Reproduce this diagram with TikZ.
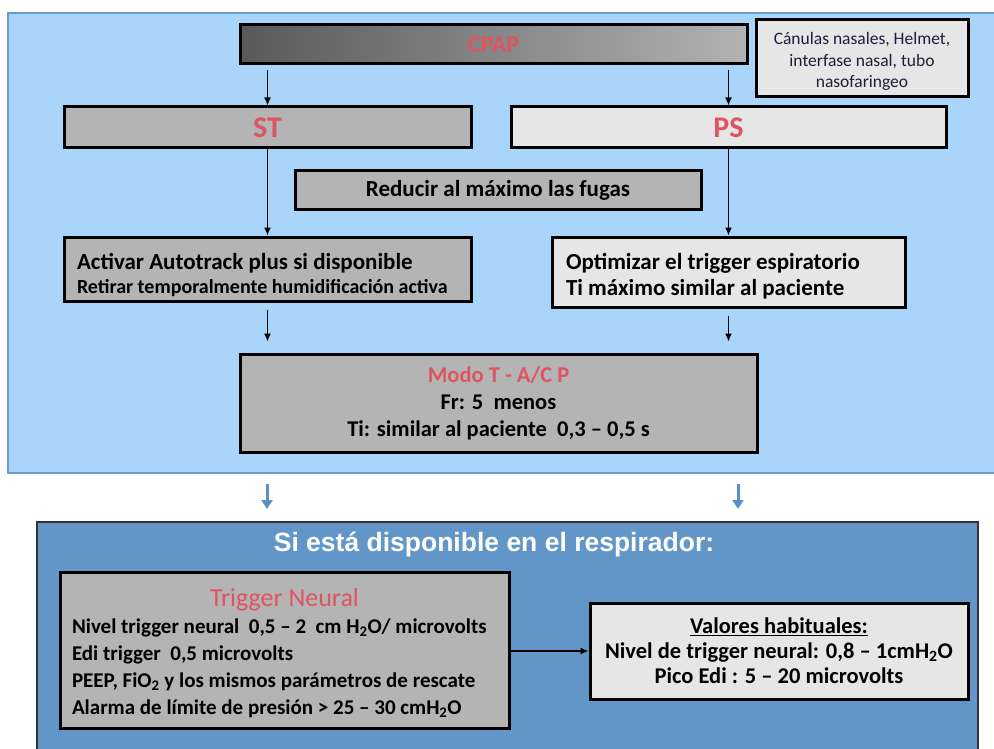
\documentclass[tikz,border=0pt]{standalone}
\usepackage{fontspec}
\setmainfont{Carlito}
\newfontfamily\titlefont{Liberation Sans}
\usetikzlibrary{arrows.meta}
\definecolor{panelblue}{RGB}{170,213,250}
\definecolor{paneledge}{RGB}{105,155,205}
\definecolor{deepblue}{RGB}{98,150,200}
\definecolor{boxgrey}{RGB}{180,180,180}
\definecolor{boxlight}{RGB}{230,230,230}
\definecolor{labelred}{RGB}{222,85,95}
\definecolor{arrowblue}{RGB}{90,143,200}
\definecolor{inknavy}{RGB}{30,30,60}
\tikzset{
  box/.style={draw=black, line width=3pt, inner sep=0pt, font=\bfseries\fontsize{23}{26}\selectfont},
  greybox/.style={box, fill=boxgrey},
  lightbox/.style={box, fill=boxlight},
  flow/.style={-{Latex[length=8pt,width=7pt]}, line width=1.5pt},
  bigflow/.style={-{Triangle[length=9pt,width=11pt]}, line width=3pt, draw=arrowblue, fill=arrowblue},
}
\begin{document}
\begin{tikzpicture}[x=1pt,y=-1pt]
\useasboundingbox (0,0) rectangle (994,749);
\clip (0,0) rectangle (994,749);
% panels
\draw[fill=panelblue, draw=paneledge, line width=2pt] (8,13) rectangle (1004,473);
\draw[fill=deepblue, draw=black!80, line width=2pt] (37,522) rectangle (978,770);
% upper part
\node[box, minimum width=507pt, minimum height=39pt, left color=black!65, right color=black!30, text=labelred, font=\bfseries\fontsize{24}{28}\selectfont] (cpap) at (493.5,44.5) {CPAP};
\node[lightbox, minimum width=212pt, minimum height=77pt, align=center, text=inknavy, font=\fontsize{17.5}{21.5}\selectfont] (interf) at (862,58.5) {\rule{0pt}{18.5pt}Cánulas nasales, Helmet,\\interfase nasal, tubo\\nasofaringeo};
\node[greybox, minimum width=407pt, minimum height=41pt, text=labelred, font=\bfseries\fontsize{30}{34}\selectfont] (st) at (267.5,127.5) {ST};
\node[lightbox, minimum width=435pt, minimum height=41pt, text=labelred, font=\bfseries\fontsize{30}{34}\selectfont] (ps) at (728.5,127.5) {PS};
\node[greybox, minimum width=406pt, minimum height=39pt] (fugas) at (498,190.5) {Reducir al máximo las fugas};
\node[greybox, minimum height=64pt, text width=381pt, inner xsep=13pt, align=flush left, font=\bfseries\fontsize{23}{24}\selectfont] (autotrack) at (267.5,269) {\rule{0pt}{29pt}Activar Autotrack plus si disponible\\{\fontsize{20}{24}\selectfont Retirar temporalmente humidificación activa}};
\node[lightbox, minimum height=70pt, text width=325pt, inner xsep=14pt, align=flush left, font=\bfseries\fontsize{23}{25.5}\selectfont] (trigesp) at (728.5,272) {\rule{0pt}{25pt}Optimizar el trigger espiratorio\\Ti máximo similar al paciente};
\node[greybox, minimum width=517pt, minimum height=98pt, align=center, font=\bfseries\fontsize{22.5}{27}\selectfont] (modo) at (498.5,403) {\textcolor{labelred}{Modo T - A/C P}\\Fr: 5 \ menos\\Ti: similar al paciente \ 0,3 -- 0,5 s};
\draw[flow] ([yshift=-5pt]cpap.south -| st.north) -- (st.north);
\draw[flow] ([yshift=-5pt]cpap.south -| ps.north) -- (ps.north);
\draw[flow] (st) -- (autotrack);
\draw[flow] (ps) -- (trigesp);
\draw[flow, shorten <=7pt, shorten >=11pt] (autotrack.south) -- (autotrack.south |- modo.north);
\draw[flow, shorten <=7pt, shorten >=11pt] (trigesp.south) -- (trigesp.south |- modo.north);
% blue arrows
\coordinate (outL) at (267,484);
\coordinate (inL) at (267,509);
\coordinate (outR) at (738,484);
\coordinate (inR) at (738,509);
\draw[bigflow] (outL) -- (inL);
\draw[bigflow] (outR) -- (inR);
% lower part
\node[text=white, font=\titlefont\bfseries\fontsize{26.5}{30}\selectfont] (avail) at (494,545) {Si está disponible en el respirador:};
\node[greybox, minimum height=156pt, text width=425pt, inner xsep=12pt, align=flush left, font=\bfseries\fontsize{21}{27}\selectfont] (neural) at (284.5,650) {\rule{0pt}{25pt}\makebox[\linewidth]{\mdseries\fontsize{26}{27}\selectfont\textcolor{labelred}{Trigger Neural}}\\Nivel trigger neural \ 0,5 -- 2 \ cm H\textsubscript{2}O/ microvolts\\Edi trigger \ 0,5 microvolts\\PEEP, FiO\textsubscript{2} y los mismos parámetros de rescate\\Alarma de límite de presión > 25 -- 30 cmH\textsubscript{2}O};
\node[lightbox, minimum width=378pt, minimum height=96pt, align=center, font=\bfseries\fontsize{22.5}{25}\selectfont] (valores) at (779,651) {\underline{Valores habituales:}\\Nivel de trigger neural: 0,8 -- 1cmH\textsubscript{2}O\\Pico Edi : 5 -- 20 microvolts};
\draw[flow] (neural.east |- valores.west) -- (valores.west);
\end{tikzpicture}
\end{document}
